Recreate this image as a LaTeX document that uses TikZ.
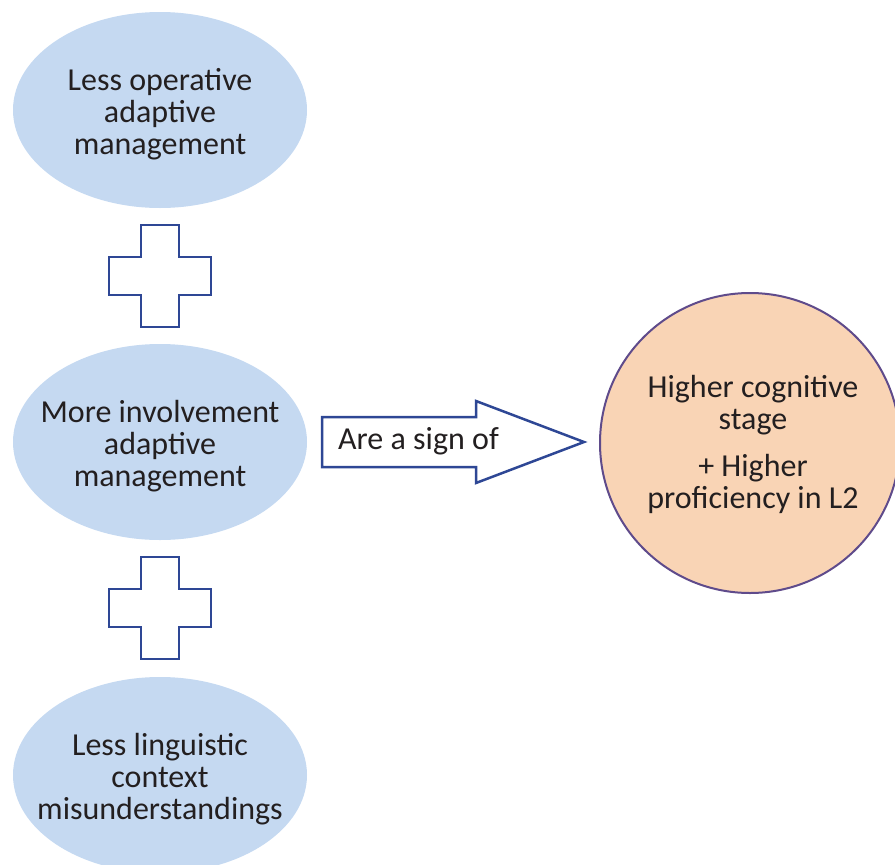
\documentclass[tikz,border=0pt]{standalone}
\usepackage{fontspec}
\setmainfont{Carlito}
\usetikzlibrary{shapes.geometric}
\definecolor{ovalblue}{HTML}{C5D9F1}
\definecolor{peach}{HTML}{F9D4B5}
\definecolor{rimpurple}{HTML}{5F4B8B}
\definecolor{plusblue}{HTML}{2E4795}
\definecolor{inkdark}{HTML}{231F20}
\tikzset{
  factor/.style={ellipse, fill=ovalblue, draw=none, minimum width=294pt,
    minimum height=196pt, inner sep=0pt},
  outcome/.style={circle, fill=peach, draw=rimpurple, line width=2pt,
    minimum size=300pt, inner sep=0pt},
  plusline/.style={draw=plusblue, line width=2.5pt, fill=white, line join=miter},
  label/.style={text=inkdark, font=\fontsize{32}{32}\selectfont, inner sep=0pt,
    align=center}
}
\begin{document}
\begin{tikzpicture}[x=1pt,y=-1pt]
  \useasboundingbox (0,0) rectangle (895,865);

  % three contributing factors
  \node[factor] (f1) at (160,110) {};
  \node[factor] (f2) at (160,442) {};
  \node[factor] (f3) at (160,775) {};
  \node[label] (t1) at ([yshift=-4pt]f1.center) {Less operative\\adaptive\\management};
  \node[label] (t2) at ([yshift=-4pt]f2.center) {More involvement\\adaptive\\management};
  \node[label] (t3) at ([yshift=-4pt]f3.center) {Less linguistic\\context\\misunderstandings};

  % plus signs between the factors
  \foreach \cy/\nm in {276/p1, 608/p2} {
    \coordinate (\nm) at (160,\cy);
    \draw[plusline] ([shift={(-19,-51)}]\nm) -- ([shift={(19,-51)}]\nm)
      -- ([shift={(19,-19)}]\nm) -- ([shift={(51,-19)}]\nm)
      -- ([shift={(51,19)}]\nm) -- ([shift={(19,19)}]\nm)
      -- ([shift={(19,51)}]\nm) -- ([shift={(-19,51)}]\nm)
      -- ([shift={(-19,19)}]\nm) -- ([shift={(-51,19)}]\nm)
      -- ([shift={(-51,-19)}]\nm) -- ([shift={(-19,-19)}]\nm) -- cycle;
  }

  % result
  \node[outcome] (res) at (750,443) {};
  \node[label] (r1) at (753,405) {Higher cognitive\\stage};
  \node[label] (r2) at (753,484) {+ Higher\\proficiency in L2};

  % block arrow with its caption
  \coordinate (ab) at (322,442);
  \draw[plusline] ([shift={(0,-25)}]ab) -- ([shift={(154,-25)}]ab)
    -- ([shift={(154,-41)}]ab) -- ([shift={(262,0)}]ab)
    -- ([shift={(154,41)}]ab) -- ([shift={(154,25)}]ab)
    -- ([shift={(0,25)}]ab) -- cycle;
  \node[label, anchor=west] (sign) at (338,441) {Are a sign of};
\end{tikzpicture}
\end{document}
